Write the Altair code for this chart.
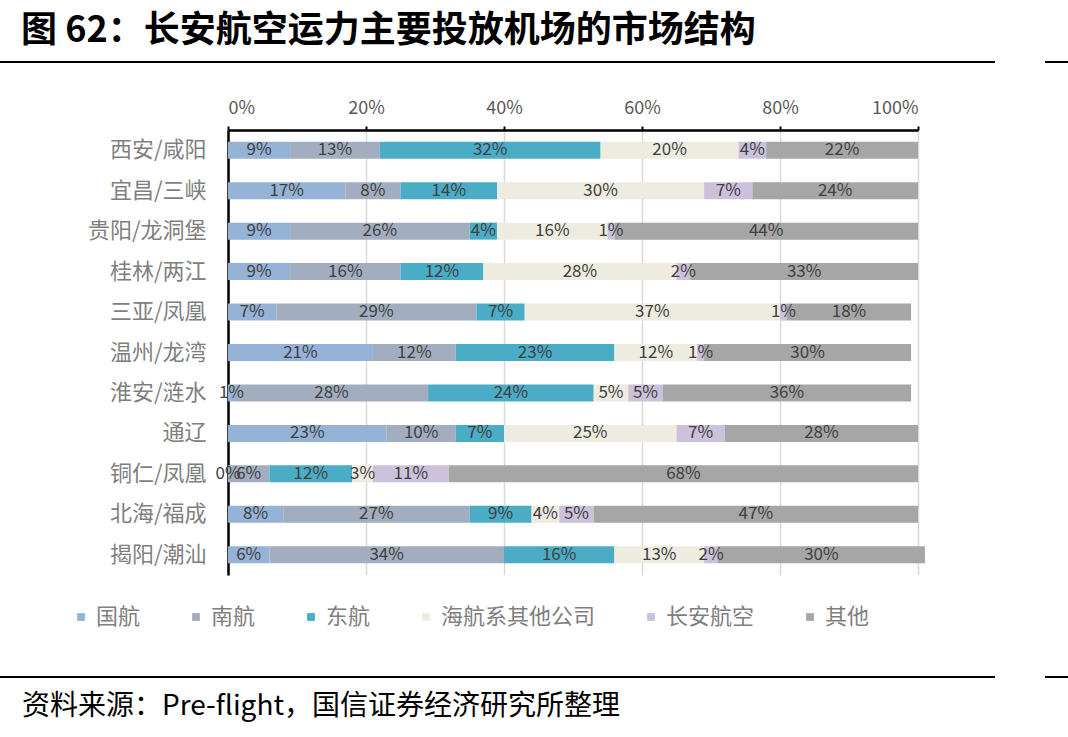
import altair as alt
import pandas as pd

airports = ["西安/咸阳", "宜昌/三峡", "贵阳/龙洞堡", "桂林/两江", "三亚/凤凰", "温州/龙湾",
            "淮安/涟水", "通辽", "铜仁/凤凰", "北海/福成", "揭阳/潮汕"]
series = ["国航", "南航", "东航", "海航系其他公司", "长安航空", "其他"]
guohang = [9, 17, 9, 9, 7, 21, 1, 23, 0, 8, 6]
nanhang = [13, 8, 26, 16, 29, 12, 28, 10, 6, 27, 34]
donghang = [32, 14, 4, 12, 7, 23, 24, 7, 12, 9, 16]
haihang = [20, 30, 16, 28, 37, 12, 5, 25, 3, 4, 13]
changan = [4, 7, 1, 2, 1, 1, 5, 7, 11, 5, 2]
qita = [22, 24, 44, 33, 18, 30, 36, 28, 68, 47, 30]
colors = ["#95B3D7", "#A2AEBF", "#4BACC6", "#EEECE1", "#CCC1DA", "#A6A6A6"]

values = [guohang, nanhang, donghang, haihang, changan, qita]
rows = []
for si, (s, vals) in enumerate(zip(series, values)):
    for a, v in zip(airports, vals):
        rows.append({"airport": a, "series": s, "order": si, "value": v})
df = pd.DataFrame(rows)

FONT = "Noto Sans CJK SC"

base = alt.Chart(df).transform_stack(
    stack="value", groupby=["airport"], sort=[alt.SortField("order")], as_=["x0", "x1"]
).transform_calculate(
    mid="(datum.x0 + datum.x1) / 2",
    lbl="datum.value + '%'"
)

yenc = alt.Y("airport:N", sort=airports,
             scale=alt.Scale(paddingInner=0.58, paddingOuter=0.29),
             axis=alt.Axis(title=None, ticks=False, domain=True, domainColor="#000000",
                           domainWidth=2.5, labelFont=FONT, labelFontSize=22,
                           labelColor="#7F7F7F", labelPadding=22))

bars = base.mark_bar().encode(
    x=alt.X("x0:Q", scale=alt.Scale(domain=[0, 100], nice=False),
            axis=alt.Axis(orient="top", values=[0, 20, 40, 60, 80, 100],
                          labelExpr="datum.value + '%'", title=None,
                          grid=True, gridColor="#D9D9D9", gridWidth=1.5,
                          domainColor="#000000", domainWidth=2.5,
                          tickColor="#000000", tickSize=4, tickWidth=2,
                          labelFont=FONT, labelFontSize=18, labelColor="#595959",
                          labelPadding=9)),
    x2="x1:Q",
    y=yenc,
    color=alt.Color("series:N", sort=series,
                    scale=alt.Scale(domain=series, range=colors),
                    legend=alt.Legend(title=None, orient="none", direction="horizontal",
                                      legendX=-158, legendY=476,
                                      symbolType="square", symbolSize=60,
                                      labelFont=FONT, labelFontSize=22,
                                      labelColor="#7F7F7F", columnPadding=44,
                                      symbolStrokeWidth=0)),
    order=alt.Order("order:Q")
)

labels = base.mark_text(font=FONT, fontSize=17, color="#404040").encode(
    x=alt.X("mid:Q"),
    y=alt.Y("airport:N", sort=airports),
    text="lbl:N"
)

title = alt.Chart(pd.DataFrame({"t": ["图 62：长安航空运力主要投放机场的市场结构"]})).mark_text(
    font=FONT, fontSize=36, fontWeight="bold", color="#000000", align="left", baseline="middle"
).encode(x=alt.value(-207), y=alt.value(-99), text="t:N")

source = alt.Chart(pd.DataFrame({"t": ["资料来源：Pre-flight，国信证券经济研究所整理"]})).mark_text(
    font=FONT, fontSize=28, color="#000000", align="left", baseline="middle"
).encode(x=alt.value(-206), y=alt.value(577), text="t:N")

def hline(x1, x2, y):
    return alt.Chart(pd.DataFrame({"a": [0]})).mark_rule(color="#000000", strokeWidth=2).encode(
        x=alt.value(x1), x2=alt.value(x2), y=alt.value(y))

lines = hline(-228, 767, -68) + hline(817, 840, -68) + hline(-228, 767, 547) + hline(817, 840, 547)

chart = alt.layer(bars, labels, title, source, lines).properties(
    width=690, height=445,
    autosize=alt.AutoSizeParams(type="none"),
    padding={"left": 228, "top": 130, "right": 150, "bottom": 162}
).configure_view(stroke=None)

chart.save("out.html", embed_options={"renderer": "svg", "actions": False})
